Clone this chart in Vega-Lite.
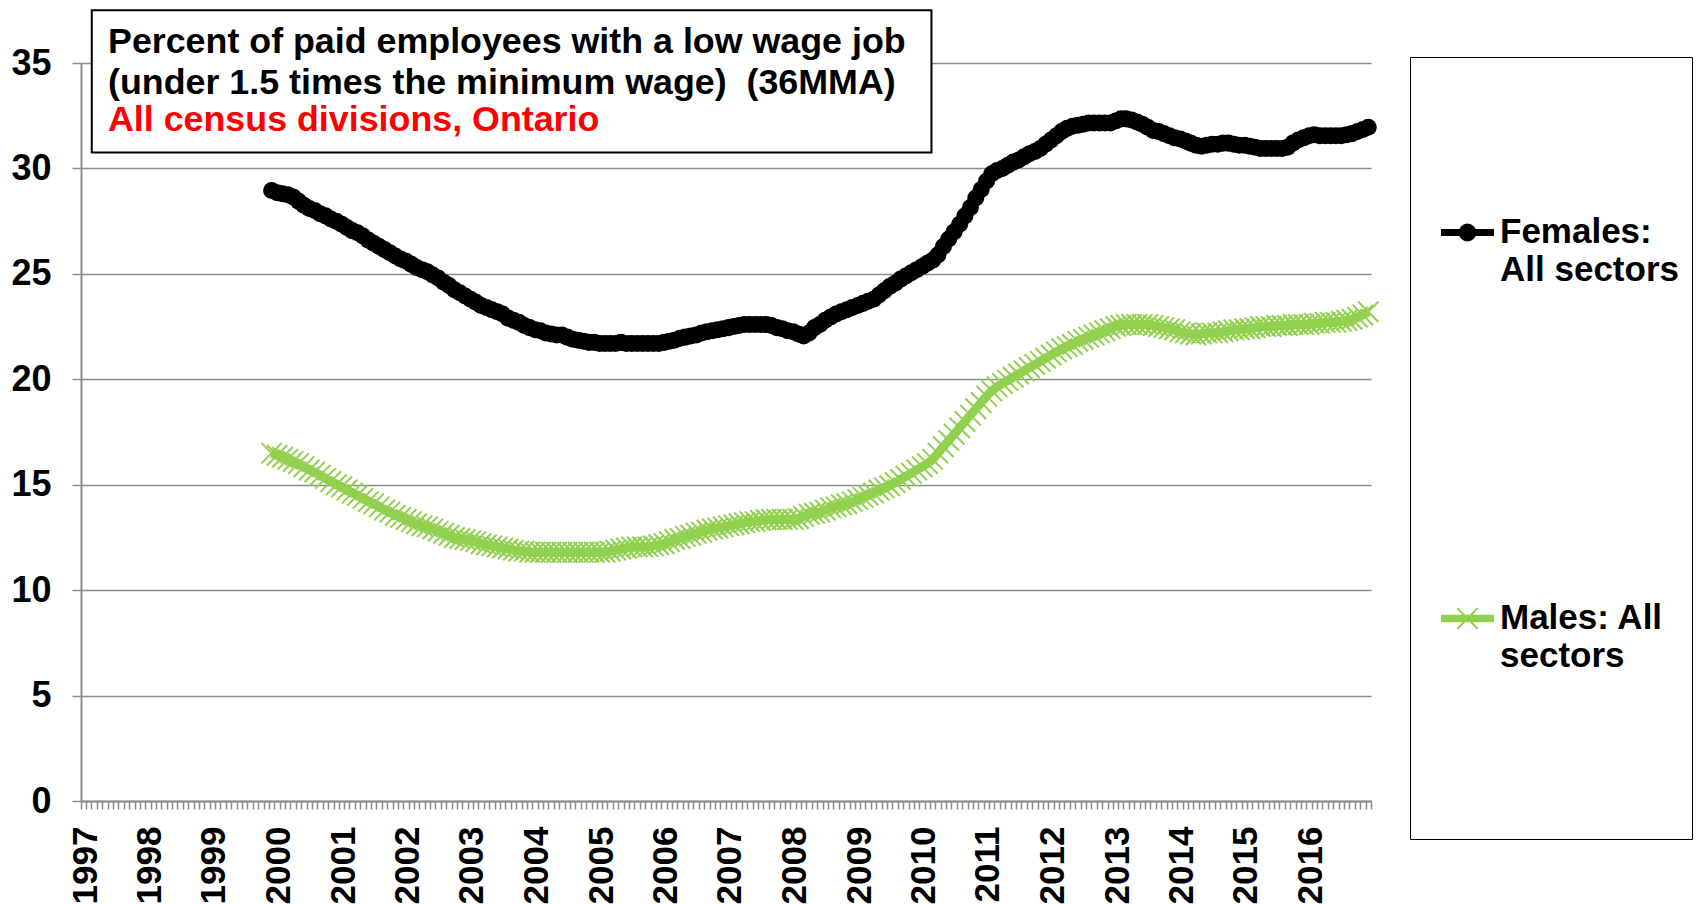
{
"$schema": "https://vega.github.io/schema/vega-lite/v6.json",
"width": 1290, "height": 738,
"autosize": {"type": "none"},
"padding": {"left": 81, "top": 63, "right": 325, "bottom": 103},
"background": "white",
"config": {"view": {"stroke": null}, "font": "Liberation Sans"},
"title": {
  "text": ["Percent of paid employees with a low wage job", "(under 1.5 times the minimum wage)\u00a0 (36MMA)"],
  "subtitle": "All census divisions, Ontario",
  "anchor": "start", "frame": "group", "orient": "top",
  "font": "Liberation Sans", "fontSize": 35.8, "fontWeight": "bold", "color": "black", "lineHeight": 41,
  "subtitleFont": "Liberation Sans", "subtitleFontSize": 35.8, "subtitleFontWeight": "bold", "subtitleColor": "#FF0000", "subtitlePadding": 2, "subtitleLineHeight": 38,
  "offset": -130, "dx": 27
},
"data": {"format": {"parse": {"d": "date:'%Y-%m'"}}, "values": [
{"d":"1999-12","F":28.95,"M":16.5},
{"d":"2000-01","F":28.85,"M":16.4},{"d":"2000-02","F":28.8,"M":16.3},{"d":"2000-03","F":28.75,"M":16.2},{"d":"2000-04","F":28.65,"M":16.1},{"d":"2000-05","F":28.45,"M":16.0},{"d":"2000-06","F":28.25,"M":15.85},{"d":"2000-07","F":28.1,"M":15.7},{"d":"2000-08","F":28.0,"M":15.6},{"d":"2000-09","F":27.85,"M":15.45},{"d":"2000-10","F":27.75,"M":15.3},{"d":"2000-11","F":27.6,"M":15.15},{"d":"2000-12","F":27.5,"M":15.0},
{"d":"2001-01","F":27.35,"M":14.9},{"d":"2001-02","F":27.2,"M":14.75},{"d":"2001-03","F":27.05,"M":14.6},{"d":"2001-04","F":26.95,"M":14.5},{"d":"2001-05","F":26.8,"M":14.35},{"d":"2001-06","F":26.6,"M":14.2},{"d":"2001-07","F":26.45,"M":14.1},{"d":"2001-08","F":26.3,"M":13.95},{"d":"2001-09","F":26.15,"M":13.8},{"d":"2001-10","F":26.0,"M":13.7},{"d":"2001-11","F":25.85,"M":13.55},{"d":"2001-12","F":25.7,"M":13.45},
{"d":"2002-01","F":25.6,"M":13.35},{"d":"2002-02","F":25.45,"M":13.25},{"d":"2002-03","F":25.3,"M":13.15},{"d":"2002-04","F":25.2,"M":13.05},{"d":"2002-05","F":25.1,"M":13.0},{"d":"2002-06","F":24.95,"M":12.9},{"d":"2002-07","F":24.8,"M":12.8},{"d":"2002-08","F":24.6,"M":12.7},{"d":"2002-09","F":24.45,"M":12.6},{"d":"2002-10","F":24.25,"M":12.5},{"d":"2002-11","F":24.1,"M":12.45},{"d":"2002-12","F":23.95,"M":12.4},
{"d":"2003-01","F":23.8,"M":12.35},{"d":"2003-02","F":23.65,"M":12.3},{"d":"2003-03","F":23.5,"M":12.2},{"d":"2003-04","F":23.4,"M":12.15},{"d":"2003-05","F":23.3,"M":12.1},{"d":"2003-06","F":23.2,"M":12.05},{"d":"2003-07","F":23.1,"M":12.0},{"d":"2003-08","F":22.9,"M":11.95},{"d":"2003-09","F":22.8,"M":11.9},{"d":"2003-10","F":22.7,"M":11.85},{"d":"2003-11","F":22.55,"M":11.85},{"d":"2003-12","F":22.45,"M":11.8},
{"d":"2004-01","F":22.35,"M":11.8},{"d":"2004-02","F":22.3,"M":11.8},{"d":"2004-03","F":22.2,"M":11.8},{"d":"2004-04","F":22.15,"M":11.8},{"d":"2004-05","F":22.1,"M":11.8},{"d":"2004-06","F":22.1,"M":11.8},{"d":"2004-07","F":22.0,"M":11.8},{"d":"2004-08","F":21.9,"M":11.8},{"d":"2004-09","F":21.85,"M":11.8},{"d":"2004-10","F":21.8,"M":11.8},{"d":"2004-11","F":21.75,"M":11.8},{"d":"2004-12","F":21.75,"M":11.8},
{"d":"2005-01","F":21.7,"M":11.8},{"d":"2005-02","F":21.7,"M":11.8},{"d":"2005-03","F":21.7,"M":11.85},{"d":"2005-04","F":21.7,"M":11.9},{"d":"2005-05","F":21.75,"M":11.95},{"d":"2005-06","F":21.7,"M":12.0},{"d":"2005-07","F":21.7,"M":12.05},{"d":"2005-08","F":21.7,"M":12.05},{"d":"2005-09","F":21.7,"M":12.05},{"d":"2005-10","F":21.7,"M":12.05},{"d":"2005-11","F":21.7,"M":12.1},{"d":"2005-12","F":21.7,"M":12.15},
{"d":"2006-01","F":21.75,"M":12.2},{"d":"2006-02","F":21.8,"M":12.3},{"d":"2006-03","F":21.85,"M":12.4},{"d":"2006-04","F":21.95,"M":12.45},{"d":"2006-05","F":22.0,"M":12.55},{"d":"2006-06","F":22.05,"M":12.6},{"d":"2006-07","F":22.1,"M":12.7},{"d":"2006-08","F":22.2,"M":12.75},{"d":"2006-09","F":22.25,"M":12.85},{"d":"2006-10","F":22.3,"M":12.9},{"d":"2006-11","F":22.35,"M":12.95},{"d":"2006-12","F":22.4,"M":13.0},
{"d":"2007-01","F":22.45,"M":13.05},{"d":"2007-02","F":22.5,"M":13.1},{"d":"2007-03","F":22.55,"M":13.15},{"d":"2007-04","F":22.6,"M":13.2},{"d":"2007-05","F":22.6,"M":13.25},{"d":"2007-06","F":22.6,"M":13.25},{"d":"2007-07","F":22.6,"M":13.3},{"d":"2007-08","F":22.6,"M":13.35},{"d":"2007-09","F":22.55,"M":13.35},{"d":"2007-10","F":22.45,"M":13.35},{"d":"2007-11","F":22.4,"M":13.35},{"d":"2007-12","F":22.3,"M":13.35},
{"d":"2008-01","F":22.25,"M":13.35},{"d":"2008-02","F":22.15,"M":13.4},{"d":"2008-03","F":22.05,"M":13.5},{"d":"2008-04","F":22.2,"M":13.6},{"d":"2008-05","F":22.45,"M":13.65},{"d":"2008-06","F":22.6,"M":13.7},{"d":"2008-07","F":22.8,"M":13.8},{"d":"2008-08","F":22.95,"M":13.9},{"d":"2008-09","F":23.1,"M":13.95},{"d":"2008-10","F":23.2,"M":14.05},{"d":"2008-11","F":23.3,"M":14.1},{"d":"2008-12","F":23.4,"M":14.2},
{"d":"2009-01","F":23.5,"M":14.3},{"d":"2009-02","F":23.6,"M":14.4},{"d":"2009-03","F":23.7,"M":14.5},{"d":"2009-04","F":23.8,"M":14.6},{"d":"2009-05","F":24.0,"M":14.75},{"d":"2009-06","F":24.2,"M":14.85},{"d":"2009-07","F":24.4,"M":14.95},{"d":"2009-08","F":24.55,"M":15.1},{"d":"2009-09","F":24.75,"M":15.25},{"d":"2009-10","F":24.9,"M":15.4},{"d":"2009-11","F":25.05,"M":15.55},{"d":"2009-12","F":25.2,"M":15.7},
{"d":"2010-01","F":25.35,"M":15.85},{"d":"2010-02","F":25.5,"M":16.0},{"d":"2010-03","F":25.65,"M":16.2},{"d":"2010-04","F":25.9,"M":16.5},{"d":"2010-05","F":26.3,"M":16.8},{"d":"2010-06","F":26.65,"M":17.1},{"d":"2010-07","F":27.0,"M":17.4},{"d":"2010-08","F":27.35,"M":17.7},{"d":"2010-09","F":27.75,"M":18.0},{"d":"2010-10","F":28.15,"M":18.3},{"d":"2010-11","F":28.6,"M":18.6},{"d":"2010-12","F":29.0,"M":18.9},
{"d":"2011-01","F":29.4,"M":19.2},{"d":"2011-02","F":29.75,"M":19.45},{"d":"2011-03","F":29.9,"M":19.65},{"d":"2011-04","F":30.0,"M":19.8},{"d":"2011-05","F":30.15,"M":19.95},{"d":"2011-06","F":30.3,"M":20.1},{"d":"2011-07","F":30.4,"M":20.25},{"d":"2011-08","F":30.55,"M":20.4},{"d":"2011-09","F":30.7,"M":20.55},{"d":"2011-10","F":30.8,"M":20.7},{"d":"2011-11","F":30.95,"M":20.85},{"d":"2011-12","F":31.15,"M":21.0},
{"d":"2012-01","F":31.35,"M":21.15},{"d":"2012-02","F":31.55,"M":21.3},{"d":"2012-03","F":31.75,"M":21.45},{"d":"2012-04","F":31.9,"M":21.55},{"d":"2012-05","F":32.0,"M":21.65},{"d":"2012-06","F":32.05,"M":21.8},{"d":"2012-07","F":32.1,"M":21.9},{"d":"2012-08","F":32.15,"M":22.0},{"d":"2012-09","F":32.15,"M":22.1},{"d":"2012-10","F":32.15,"M":22.2},{"d":"2012-11","F":32.15,"M":22.3},{"d":"2012-12","F":32.15,"M":22.4},
{"d":"2013-01","F":32.25,"M":22.5},{"d":"2013-02","F":32.35,"M":22.55},{"d":"2013-03","F":32.35,"M":22.6},{"d":"2013-04","F":32.3,"M":22.6},{"d":"2013-05","F":32.2,"M":22.6},{"d":"2013-06","F":32.1,"M":22.6},{"d":"2013-07","F":31.95,"M":22.6},{"d":"2013-08","F":31.8,"M":22.55},{"d":"2013-09","F":31.75,"M":22.5},{"d":"2013-10","F":31.65,"M":22.45},{"d":"2013-11","F":31.55,"M":22.4},{"d":"2013-12","F":31.45,"M":22.35},
{"d":"2014-01","F":31.4,"M":22.25},{"d":"2014-02","F":31.3,"M":22.2},{"d":"2014-03","F":31.2,"M":22.15},{"d":"2014-04","F":31.1,"M":22.1},{"d":"2014-05","F":31.05,"M":22.15},{"d":"2014-06","F":31.1,"M":22.2},{"d":"2014-07","F":31.15,"M":22.2},{"d":"2014-08","F":31.15,"M":22.2},{"d":"2014-09","F":31.2,"M":22.25},{"d":"2014-10","F":31.2,"M":22.3},{"d":"2014-11","F":31.15,"M":22.35},{"d":"2014-12","F":31.1,"M":22.35},
{"d":"2015-01","F":31.1,"M":22.4},{"d":"2015-02","F":31.05,"M":22.4},{"d":"2015-03","F":31.0,"M":22.45},{"d":"2015-04","F":30.95,"M":22.5},{"d":"2015-05","F":30.95,"M":22.5},{"d":"2015-06","F":30.95,"M":22.5},{"d":"2015-07","F":30.95,"M":22.55},{"d":"2015-08","F":30.95,"M":22.55},{"d":"2015-09","F":31.0,"M":22.55},{"d":"2015-10","F":31.2,"M":22.6},{"d":"2015-11","F":31.35,"M":22.6},{"d":"2015-12","F":31.45,"M":22.6},
{"d":"2016-01","F":31.55,"M":22.6},{"d":"2016-02","F":31.6,"M":22.65},{"d":"2016-03","F":31.55,"M":22.65},{"d":"2016-04","F":31.55,"M":22.7},{"d":"2016-05","F":31.55,"M":22.7},{"d":"2016-06","F":31.55,"M":22.7},{"d":"2016-07","F":31.55,"M":22.75},{"d":"2016-08","F":31.6,"M":22.8},{"d":"2016-09","F":31.65,"M":22.85},{"d":"2016-10","F":31.75,"M":22.95},{"d":"2016-11","F":31.85,"M":23.05},{"d":"2016-12","F":31.95,"M":23.2}
]},
"layer": [
  {
    "transform": [{"fold": ["F", "M"], "as": ["s", "v"]}],
    "mark": {"type": "line", "strokeWidth": 9},
    "encoding": {
      "x": {"field": "d", "type": "temporal", "timeUnit": "yearmonth", "bandPosition": 0.5,
        "scale": {"domain": [{"year": 1997, "month": 1, "date": 1}, {"year": 2017, "month": 1, "date": 1}], "nice": false},
        "axis": {"title": null, "grid": false, "domainColor": "#8c8c8c", "domainWidth": 2, "tickColor": "#8c8c8c", "tickWidth": 1.5, "tickSize": 8,
          "tickCount": {"interval": "month", "step": 1},
          "labelExpr": "month(datum.value) == 0 && year(datum.value) < 2017 ? timeFormat(datum.value, '%Y') : ''",
          "labelAngle": 270, "labelFont": "Liberation Sans", "labelFontWeight": "bold", "labelFontSize": 35, "labelColor": "black",
          "labelPadding": 17, "labelOffset": 4, "labelOverlap": false, "labelBound": false, "labelFlush": false}},
      "y": {"field": "v", "type": "quantitative", "scale": {"domain": [0, 35], "nice": false},
        "axis": {"title": null, "values": [0, 5, 10, 15, 20, 25, 30, 35], "grid": true, "gridColor": "#8c8c8c", "gridWidth": 1.5,
          "domainColor": "#8c8c8c", "domainWidth": 2, "tickColor": "#8c8c8c", "tickWidth": 1.5, "tickSize": 9,
          "labelFont": "Liberation Sans", "labelFontWeight": "bold", "labelFontSize": 36, "labelColor": "black", "labelPadding": 21}},
      "color": {"field": "s", "type": "nominal", "scale": {"domain": ["F", "M"], "range": ["black", "#92D050"]},
        "legend": {"orient": "none", "legendX": 1329, "legendY": -6,
          "title": " ", "titleFontSize": 20, "titlePadding": 116,
          "strokeColor": "black", "fillColor": "white", "padding": 13,
          "labelExpr": "datum.value == 'F' ? ['Females:', 'All sectors'] : ['Males: All', 'sectors', ' ', ' ', ' ', ' ']",
          "labelFont": "Liberation Sans", "labelFontWeight": "bold", "labelFontSize": 35, "labelColor": "black", "labelLimit": 400,
          "labelBaseline": "top", "labelOffset": 6, "rowPadding": 304,
          "symbolSize": 2601, "symbolOffset": 18, "symbolStrokeWidth": 2,
          "encode": {
            "symbols": {"update": {
              "shape": {"signal": "datum.value == 'F' ? 'M-1,-0.1H1V0.1H-1Z M0.31,0A0.31,0.31,0,1,1,-0.31,0A0.31,0.31,0,1,1,0.31,0Z' : 'M-1,-0.11H1V0.11H-1Z M-0.4,-0.4L0.4,0.4M-0.4,0.4L0.4,-0.4'"},
              "fill": {"signal": "datum.value == 'F' ? 'black' : '#92D050'"},
              "stroke": {"signal": "datum.value == 'F' ? 'black' : '#92D050'"},
              "opacity": {"value": 1}, "fillOpacity": {"value": 1}}},
            "labels": {"update": {"dy": {"value": -18}, "lineHeight": {"value": 38}}}
          }}}
    }
  },
  {
    "transform": [{"fold": ["F", "M"], "as": ["s", "v"]}, {"filter": "datum.s == 'F'"}],
    "mark": {"type": "point", "shape": "circle", "filled": true, "color": "black", "size": 290, "opacity": 1},
    "encoding": {
      "x": {"field": "d", "type": "temporal", "timeUnit": "yearmonth", "bandPosition": 0.5},
      "y": {"field": "v", "type": "quantitative"}
    }
  },
  {
    "transform": [{"fold": ["F", "M"], "as": ["s", "v"]}, {"filter": "datum.s == 'M'"}],
    "mark": {"type": "point", "shape": "M-1,-1L1,1M-1,1L1,-1", "filled": false, "stroke": "#92D050", "strokeWidth": 2, "size": 420, "opacity": 1},
    "encoding": {
      "x": {"field": "d", "type": "temporal", "timeUnit": "yearmonth", "bandPosition": 0.5},
      "y": {"field": "v", "type": "quantitative"}
    }
  },
  {
    "data": {"values": [{}]},
    "mark": {"type": "rect", "fill": "white", "stroke": "black", "strokeWidth": 2},
    "encoding": {
      "x": {"datum": {"year": 1997, "month": 3, "date": 3}, "type": "temporal"},
      "x2": {"datum": {"year": 2010, "month": 3, "date": 10}},
      "y": {"datum": 37.5, "type": "quantitative"},
      "y2": {"datum": 30.75}
    }
  }
]
}
